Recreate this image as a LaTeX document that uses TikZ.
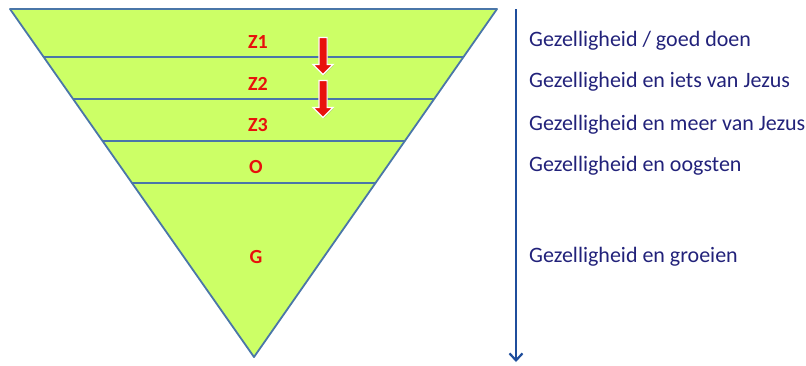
\documentclass[tikz,border=0pt]{standalone}
\usepackage{fontspec}
\setmainfont{Carlito}
\usepackage{xcolor}
\usepackage{tikz}
\usetikzlibrary{arrows.meta,positioning,calc,shapes.arrows,shadows}
\definecolor{fnlime}{HTML}{CCFF66}
\definecolor{fnedge}{HTML}{4A76A8}
\definecolor{fnred}{HTML}{E8100C}
\definecolor{fnnavy}{HTML}{22227A}
\definecolor{fnblue}{HTML}{1F4E9C}

\begin{document}
\begin{tikzpicture}[x=1pt,y=-1pt,
  zone/.style={font=\fontsize{20}{20}\selectfont\bfseries,text=fnred,inner sep=0pt},
  phase/.style={font=\fontsize{22}{22}\selectfont,text=fnnavy,anchor=west,inner sep=0pt},
  divider/.style={draw=fnedge,line width=1.8pt},
  stepdown/.style={single arrow,shape border rotate=270,fill=fnred,draw=white,line width=1.2pt,
      minimum height=37pt,minimum width=20pt,inner sep=3.5pt,single arrow head extend=6pt,
      drop shadow={shadow xshift=0.8pt,shadow yshift=-0.8pt,opacity=0.35}}]
\useasboundingbox (0,0) rectangle (806,365);
% funnel outline
\coordinate (tl) at (10,9);
\coordinate (tr) at (497,9);
\coordinate (apex) at (254,357);
\fill[fnlime] (tl) -- (tr) -- (apex) -- cycle;
\foreach \t in {0.138,0.2586,0.3793,0.5}
  \draw[divider] ($(tl)!\t!(apex)$) -- ($(tr)!\t!(apex)$);
\draw[divider,line join=round] (tl) -- (tr) -- (apex) -- cycle;
% zone labels
\node[zone] (z1) at (258,42) {Z1};
\node[zone] (z2) at (258,84) {Z2};
\node[zone] (z3) at (258,125) {Z3};
\node[zone] (o) at (256,167) {O};
\node[zone] (g) at (256,257) {G};
% red step arrows
\node[stepdown] (s1) at (323,54) {};
\node[stepdown] (s2) at (323,97) {};
% time axis
\coordinate (axtop) at (516,9);
\coordinate (axbot) at (516,362);
\draw[fnblue,line width=2.8pt,-{Straight Barb[length=7pt,width=13pt,line width=2.2pt]}] (axtop) -- (axbot);
% phase texts
\node[phase] (p1) at (529,41) {Gezelligheid / goed doen};
\node[phase] (p2) at (529,82) {Gezelligheid en iets van Jezus};
\node[phase] (p3) at (529,125) {Gezelligheid en meer van Jezus};
\node[phase] (p4) at (529,166) {Gezelligheid en oogsten};
\node[phase] (p5) at (529,257) {Gezelligheid en groeien};
\end{tikzpicture}
\end{document}
